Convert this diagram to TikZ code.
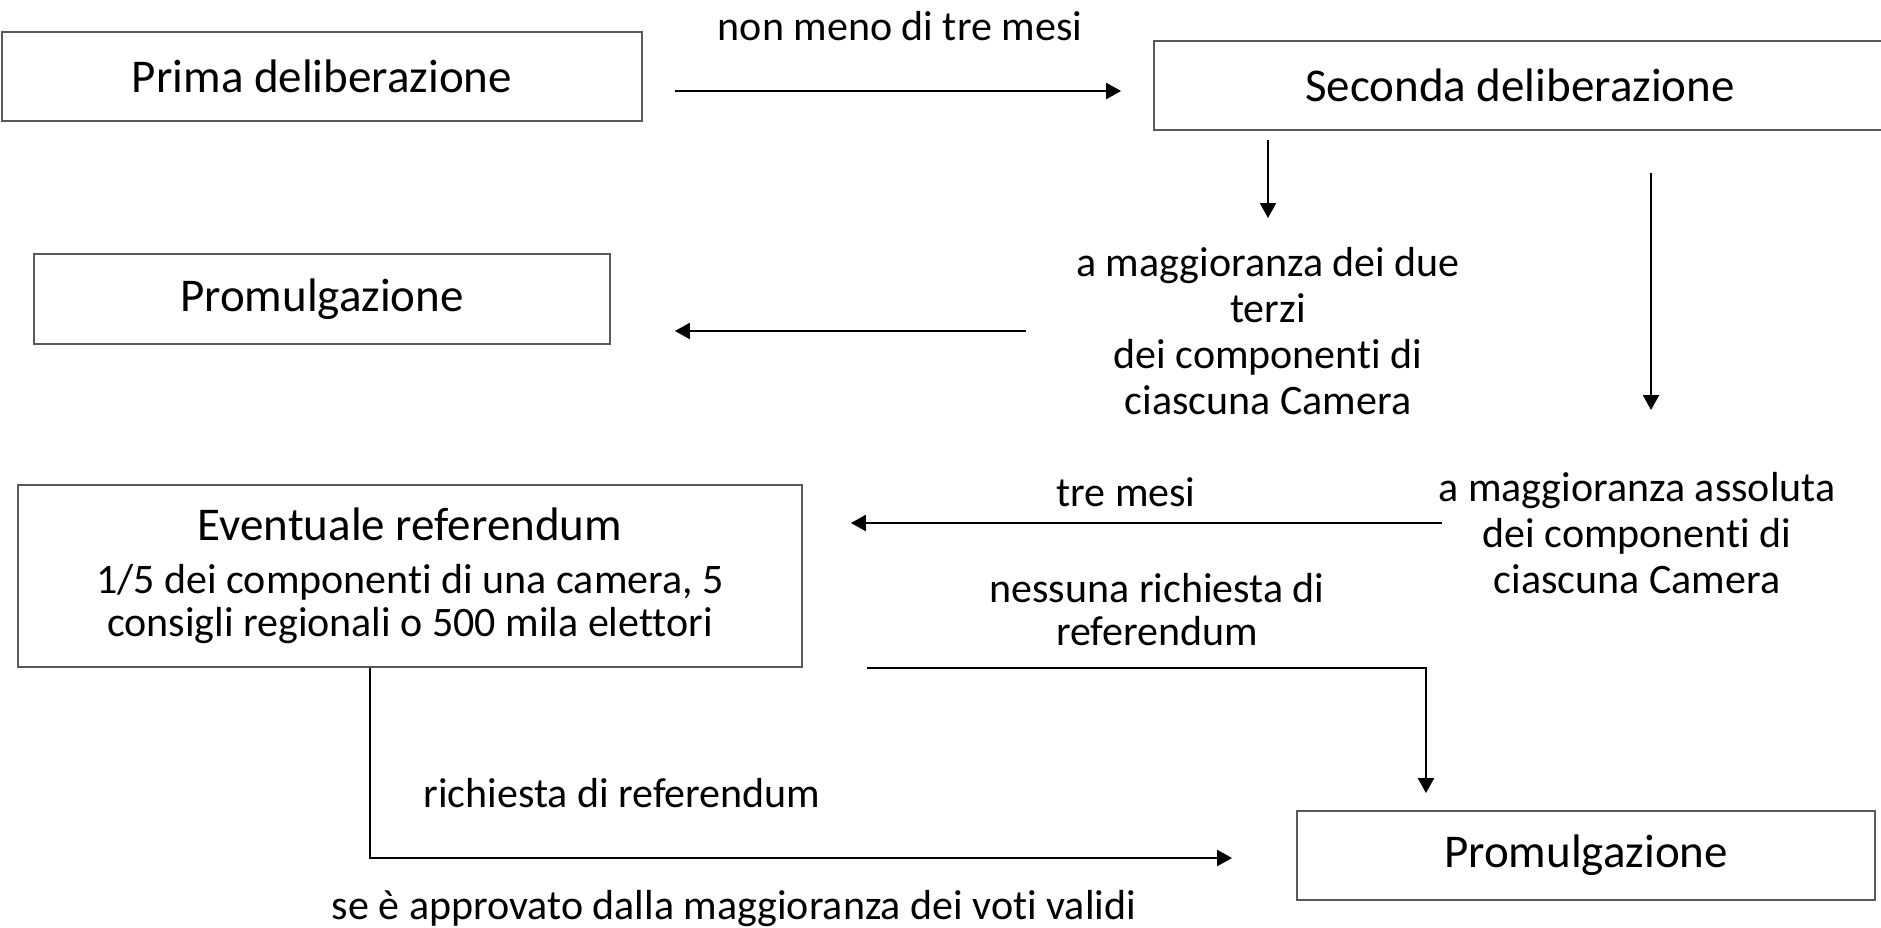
\documentclass[tikz,border=0pt]{standalone}
\usepackage{fontspec}
\setmainfont[Ligatures={NoCommon,NoContextual,NoRare},Contextuals=NoAlternate]{Carlito}
\usetikzlibrary{arrows.meta}
\definecolor{boxgray}{RGB}{89,89,89}
\begin{document}
\begin{tikzpicture}[x=1pt,y=-1pt,
  box/.style={draw=boxgray,line width=1.8pt,rectangle,inner sep=0pt,align=center,font=\fontsize{47}{53}\selectfont},
  lbl/.style={inner sep=0pt,align=center,font=\fontsize{42}{46}\selectfont},
  arr/.style={draw=black,line width=2.2pt,-{Triangle[length=15pt,width=16pt]}}]
\useasboundingbox (0,0) rectangle (1881,927);
% boxes
\node[box,minimum width=640pt,minimum height=89pt] (prima) at (322,76.5) {Prima deliberazione};
\node[box,minimum width=732pt,minimum height=89pt] (seconda) at (1520,85.5) {Seconda deliberazione};
\node[box,minimum width=576pt,minimum height=90pt] (prom1) at (322,299) {Promulgazione};
\node[box,minimum width=784pt,minimum height=182pt,font=\fontsize{42}{43}\selectfont] (ev) at (410,576)
  {{\fontsize{47}{53}\selectfont Eventuale referendum}\\[10pt]1/5 dei componenti di una camera, 5\\consigli regionali o 500 mila elettori};
\node[box,minimum width=578pt,minimum height=89pt] (prom2) at (1586,855.5) {Promulgazione};
% labels
\node[lbl] (l1) at (900,26) {non meno di tre mesi};
\node[lbl] (due) at (1268,331) {a maggioranza dei due\\terzi\\dei componenti di\\ciascuna Camera};
\node[lbl] (tre) at (1126,492) {tre mesi};
\node[lbl] (ass) at (1637,533) {a maggioranza assoluta\\dei componenti di\\ciascuna Camera};
\node[lbl,font=\fontsize{42}{43}\selectfont] (ness) at (1157,610) {nessuna richiesta di\\referendum};
\node[lbl] (rich) at (622,793) {richiesta di referendum};
\node[lbl] (appr) at (734,909) {se è approvato dalla maggioranza dei voti validi};
% connectors
\draw[arr] ([xshift=32pt,yshift=-14.5pt]prima.east) -- ([xshift=-32pt,yshift=-5.5pt]seconda.west);
\draw[arr] ([yshift=-9pt]seconda.south -| due.center) -- ([yshift=113pt]due.center);
\draw[arr] ([xshift=131pt,yshift=-42pt]seconda.south) -- ([xshift=14pt,yshift=123pt]ass.center);
\draw[arr] ([xshift=-242pt]due.center) -- ([xshift=64pt,yshift=-32pt]prom1.east);
\draw[arr] ([xshift=-195pt,yshift=10pt]ass.center) -- ([xshift=48pt,yshift=53pt]ev.east);
\draw[arr] ([xshift=64pt]ev.south east) -| ([xshift=-160pt,yshift=17pt]prom2.north);
\draw[arr] ([xshift=-40pt]ev.south) |- ([xshift=-64pt,yshift=-2.5pt]prom2.west);
\end{tikzpicture}
\end{document}
